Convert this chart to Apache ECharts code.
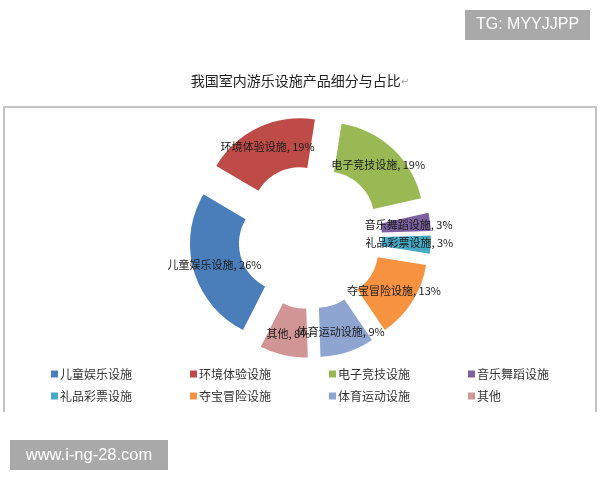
<!DOCTYPE html>
<html><head><meta charset="utf-8">
<script src="https://cdn.jsdelivr.net/npm/echarts@6/dist/echarts.min.js"></script>
<style>html,body{margin:0;padding:0;background:#fff}#c{width:600px;height:480px}</style>
</head><body><div id="c"></div>
<script>
const categories = ['儿童娱乐设施','环境体验设施','电子竞技设施','音乐舞蹈设施','礼品彩票设施','夺宝冒险设施','体育运动设施','其他'];
const values = [26, 19, 19, 3, 3, 13, 9, 8];
const colors = ['#4a7ebb','#be4b48','#98b954','#7d60a0','#46aac5','#f69240','#8ea5d2','#d29596'];
const titleText = '我国室内游乐设施产品细分与占比';

const chart = echarts.init(document.getElementById('c'), null, {renderer:'canvas'});
const cjk = '"Noto Sans CJK SC", "Noto Sans", sans-serif';
chart.setOption({
  animation: false,
  color: colors,
  title: {
    text: '{a|' + titleText + '}{b|↵}',
    left: 'center', top: 69,
    textStyle: { fontWeight: 'normal', rich: {
      a: { fontSize: 14, color: '#222', fontFamily: cjk, fontWeight: 'normal' },
      b: { fontSize: 10, color: '#aaa', fontFamily: 'DejaVu Sans', padding:[2,0,0,0], fontWeight: 'normal' }
    }}
  },
  legend: {
    left: 51, top: 368, width: 575, padding: 0,
    itemWidth: 7, itemHeight: 7, itemGap: 10,
    icon: 'rect',
    selectedMode: false,
    data: categories,
    textStyle: { fontSize: 12, color: '#333', fontFamily: cjk, width: 120, lineHeight: 10, padding: [0,0,0,-3] }
  },
  graphic: [
    { type: 'polyline', shape: { points: [[4,412],[4,107],[596,107],[596,412]] },
      style: { stroke: '#c4c4c4', lineWidth: 2, fill: null } },
    { type: 'rect', shape: { x: 465, y: 10, width: 125, height: 30 }, style: { fill: '#a9a9a9' } },
    { type: 'text', x: 527.5, y: 25, style: { text: 'TG: MYYJJPP', fill: '#fff', font: '16px "Liberation Sans", Arial, sans-serif', textAlign: 'center', textVerticalAlign: 'middle' } },
    { type: 'rect', shape: { x: 10, y: 440, width: 158, height: 30 }, style: { fill: '#a9a9a9' } },
    { type: 'text', x: 89, y: 455, style: { text: 'www.i-ng-28.com', fill: '#fff', font: '16.5px "Liberation Sans", Arial, sans-serif', textAlign: 'center', textVerticalAlign: 'middle' } }
  ],
  series: [{
    type: 'pie',
    center: [310, 237],
    radius: [48, 97],
    startAngle: 243,
    clockwise: true,
    selectedMode: 'multiple',
    selectedOffset: 24,
    avoidLabelOverlap: false,
    minShowLabelAngle: 0,
    labelLayout: { hideOverlap: false },
    emphasis: { disabled: true },
    select: { itemStyle: { borderWidth: 0 } },
    itemStyle: { borderWidth: 0 },
    label: {
      show: true, position: 'inside',
      formatter: '{b}, {d}%',
      fontSize: 11, color: '#1a1a1a', fontFamily: cjk
    },
    labelLine: { show: false },
    data: categories.map((n, i) => ({ name: n, value: values[i], selected: true }))
  }]
});
</script></body></html>
